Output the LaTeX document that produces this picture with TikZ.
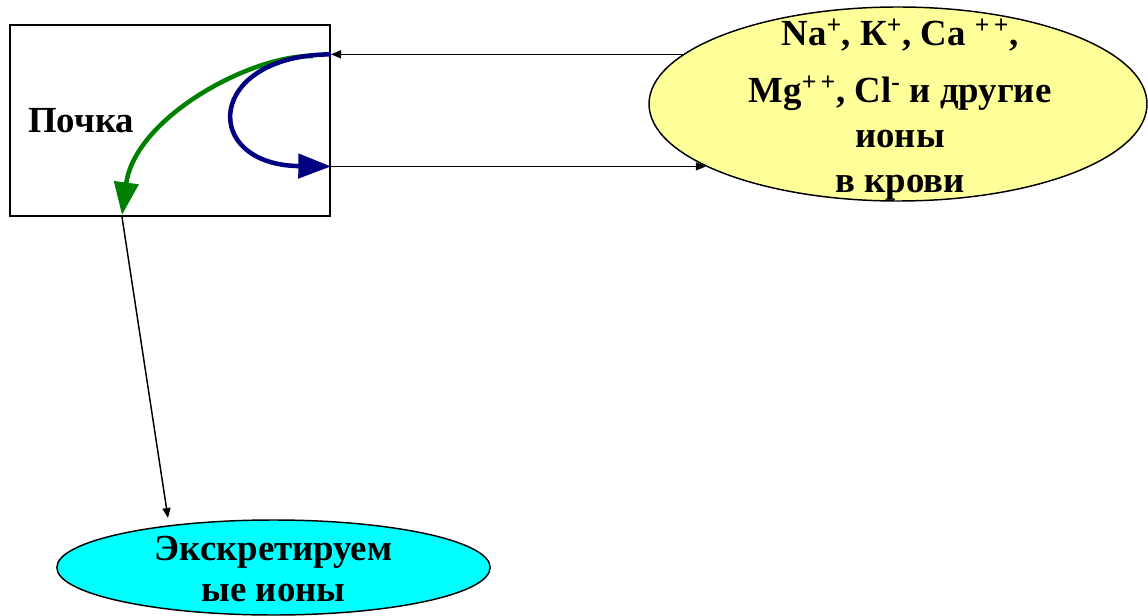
\documentclass[tikz,border=0pt]{standalone}
\usepackage{fontspec}
\setmainfont{Liberation Serif}
\usetikzlibrary{arrows.meta,shapes.geometric}
\definecolor{ygfill}{RGB}{255,255,153}
\definecolor{cyfill}{RGB}{0,255,255}
\definecolor{grn}{RGB}{0,128,0}
\definecolor{nvy}{RGB}{0,0,128}
\begin{document}
\begin{tikzpicture}[x=0.75pt,y=-0.75pt,
  lbl/.style={font=\fontsize{27.6}{33.75}\selectfont\bfseries, align=center, inner sep=0pt},
  thinarrow/.style={line width=1.1pt,-{Triangle[length=7.5pt,width=6pt]}},
  bigarrow/.style={line width=3.4pt,-{Triangle[length=24.5pt,width=18pt]}},
  oval/.style={ellipse, draw, line width=1.1pt, inner sep=0pt}]
\useasboundingbox (0,0) rectangle (1148,616);
% kidney box
\node[draw, line width=1.5pt, minimum width=240pt, minimum height=143.25pt, inner sep=0pt] (box) at (170,120.5) {};
\node[lbl, anchor=base west] (pochka) at (28,133) {Почка};
% blood ellipse
\node[oval, fill=ygfill, minimum width=373.5pt, minimum height=145.5pt] (blood) at (898,104) {};
\node[lbl] (bloodtxt) at (900,110) {Na\textsuperscript{+}, К\textsuperscript{+}, Ca \textsuperscript{+\,+},\\[9pt]
  Mg\textsuperscript{+\,+}, Cl\textsuperscript{-} и другие\\ ионы\\ в крови};
% excreted ions ellipse
\node[oval, fill=cyfill, minimum width=325pt, minimum height=71.25pt] (excr) at (273.5,567.5) {};
\node[lbl, font=\fontsize{27.6}{30.75}\selectfont\bfseries] (excrtxt) at (273.5,569) {Экскретируем\\ые ионы};
% coordinates
\coordinate (inTop) at (blood.167.8);
\coordinate (inBot) at (blood.198.9);
\coordinate (gS) at (313,56);
\coordinate (gE) at (122,215);
\coordinate (exTip) at (168,518);
% connectors
\draw[thinarrow] (inTop) -- (inTop -| box.east);
\draw[thinarrow] (inBot -| box.east) -- (inBot);
\draw[bigarrow, grn] (gS) .. controls (250,55) and (135,118) .. (gE);
\draw[bigarrow, nvy] (inTop -| box.east) .. controls (205,55) and (200,165) .. (inBot -| box.east);
\draw[thinarrow] (gE |- box.south) -- (exTip);
\end{tikzpicture}
\end{document}
